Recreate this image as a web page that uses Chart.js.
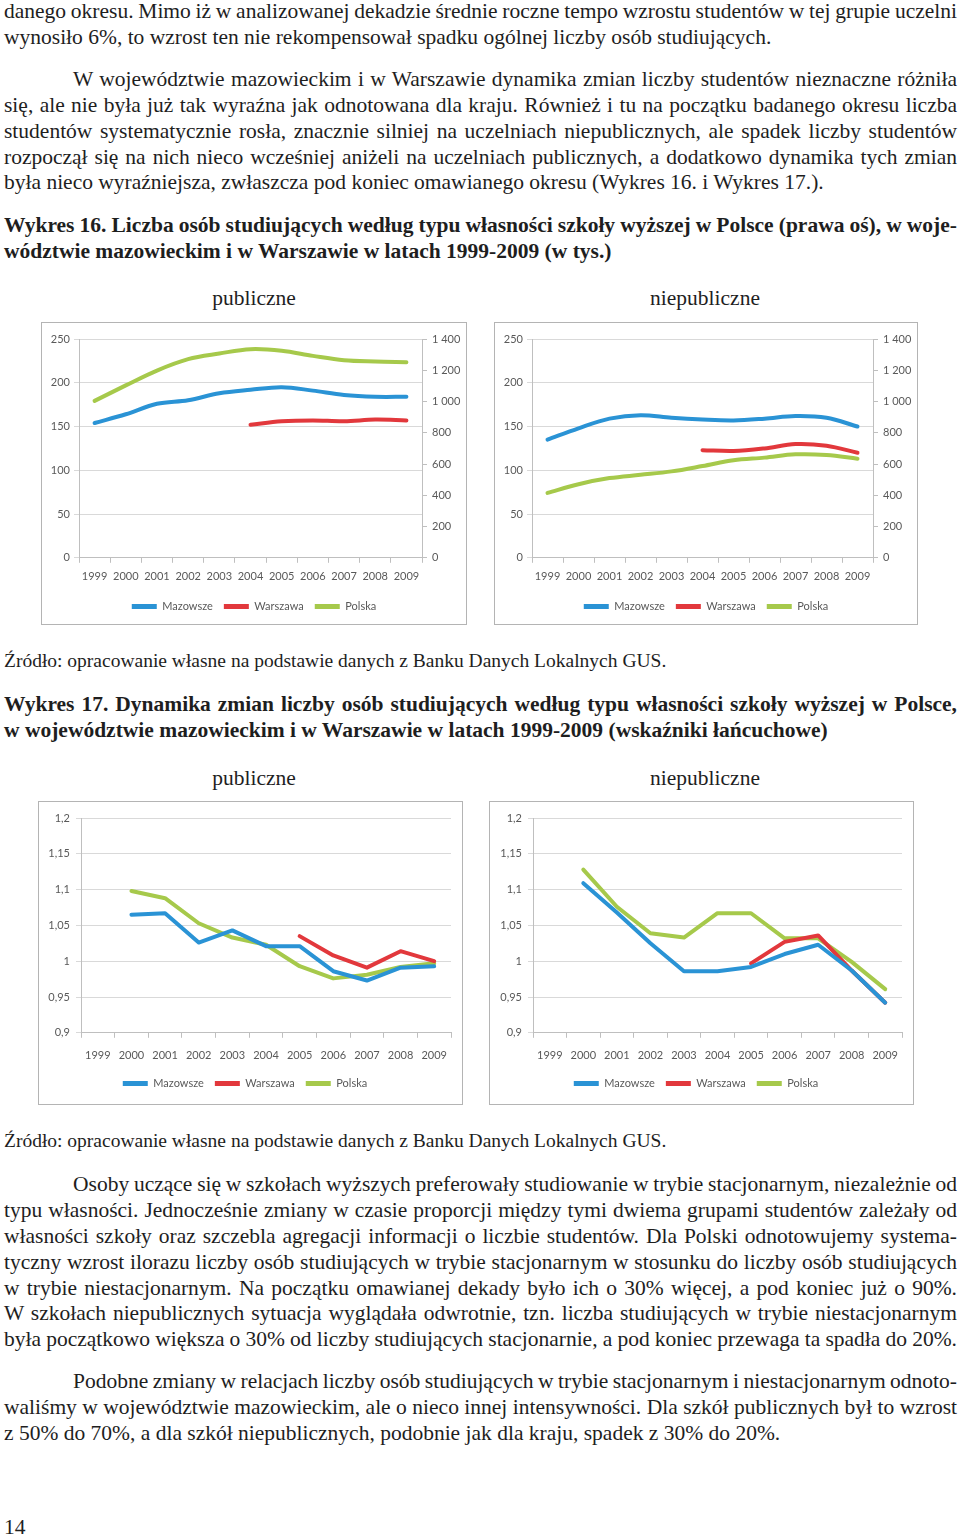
<!DOCTYPE html>
<html lang="pl">
<head>
<meta charset="utf-8">
<title>Wykres 16 i 17</title>
<script src="https://cdn.jsdelivr.net/npm/chart.js@4.4.0/dist/chart.umd.min.js"></script>
<style>
  body { margin: 0; width: 960px; height: 1539px; position: relative; background: #fff;
         font-family: "Liberation Serif", "Times New Roman", serif; color: #1e1e1e; overflow: hidden; }
  .ln { position: absolute; left: 4px; width: 953px; font-size: 21.5px; line-height: 26px; white-space: nowrap; }
  .j { text-align: justify; text-align-last: justify; }
  .ind { left: 73px; width: 884px; }
  .b { font-weight: bold; }
  .src { font-size: 19.5px; }
  .sub { position: absolute; font-size: 21.5px; line-height: 26px; transform: translateX(-50%); white-space: nowrap; }
  .box { position: absolute; border: 1px solid #b4b4b4; background: #fff; }
  .box div { position: relative; width: 100%; height: 100%; }
</style>
</head>
<body>

<div class="ln j" style="top:-2px">danego okresu. Mimo iż w analizowanej dekadzie średnie roczne tempo wzrostu studentów w tej grupie uczelni</div>
<div class="ln" style="top:24px">wynosiło 6%, to wzrost ten nie rekompensował spadku ogólnej liczby osób studiujących.</div>

<div class="ln j ind" style="top:66px">W województwie mazowieckim i w Warszawie dynamika zmian liczby studentów nieznaczne różniła</div>
<div class="ln j" style="top:92px">się, ale nie była już tak wyraźna jak odnotowana dla kraju. Również i tu na początku badanego okresu liczba</div>
<div class="ln j" style="top:118px">studentów systematycznie rosła, znacznie silniej na uczelniach niepublicznych, ale spadek liczby studentów</div>
<div class="ln j" style="top:144px">rozpoczął się na nich nieco wcześniej aniżeli na uczelniach publicznych, a dodatkowo dynamika tych zmian</div>
<div class="ln" style="top:169px">była nieco wyraźniejsza, zwłaszcza pod koniec omawianego okresu (Wykres 16. i Wykres 17.).</div>

<div class="ln j b" style="top:212px">Wykres 16. Liczba osób studiujących według typu własności szkoły wyższej w Polsce (prawa oś), w woje-</div>
<div class="ln b" style="top:238px">wództwie mazowieckim i w Warszawie w latach 1999-2009 (w tys.)</div>

<div class="sub" style="top:285px;left:254px">publiczne</div>
<div class="sub" style="top:285px;left:705px">niepubliczne</div>

<div class="box" style="left:41px;top:322px;width:424px;height:301px"><div><canvas id="c16pub"></canvas></div></div>
<div class="box" style="left:494px;top:322px;width:422px;height:301px"><div><canvas id="c16niepub"></canvas></div></div>

<div class="ln src" style="top:648px">Źródło: opracowanie własne na podstawie danych z Banku Danych Lokalnych GUS.</div>

<div class="ln j b" style="top:691px">Wykres 17. Dynamika zmian liczby osób studiujących według typu własności szkoły wyższej w Polsce,</div>
<div class="ln b" style="top:717px">w województwie mazowieckim i w Warszawie w latach 1999-2009 (wskaźniki łańcuchowe)</div>

<div class="sub" style="top:765px;left:254px">publiczne</div>
<div class="sub" style="top:765px;left:705px">niepubliczne</div>

<div class="box" style="left:38px;top:801px;width:423px;height:302px"><div><canvas id="c17pub"></canvas></div></div>
<div class="box" style="left:489px;top:801px;width:423px;height:302px"><div><canvas id="c17niepub"></canvas></div></div>

<div class="ln src" style="top:1128px">Źródło: opracowanie własne na podstawie danych z Banku Danych Lokalnych GUS.</div>

<div class="ln j ind" style="top:1171px">Osoby uczące się w szkołach wyższych preferowały studiowanie w trybie stacjonarnym, niezależnie od</div>
<div class="ln j" style="top:1197px">typu własności. Jednocześnie zmiany w czasie proporcji między tymi dwiema grupami studentów zależały od</div>
<div class="ln j" style="top:1223px">własności szkoły oraz szczebla agregacji informacji o liczbie studentów. Dla Polski odnotowujemy systema-</div>
<div class="ln j" style="top:1249px">tyczny wzrost ilorazu liczby osób studiujących w trybie stacjonarnym w stosunku do liczby osób studiujących</div>
<div class="ln j" style="top:1275px">w trybie niestacjonarnym. Na początku omawianej dekady było ich o 30% więcej, a pod koniec już o 90%.</div>
<div class="ln j" style="top:1300px">W szkołach niepublicznych sytuacja wyglądała odwrotnie, tzn. liczba studiujących w trybie niestacjonarnym</div>
<div class="ln j" style="top:1326px">była początkowo większa o 30% od liczby studiujących stacjonarnie, a pod koniec przewaga ta spadła do 20%.</div>

<div class="ln j ind" style="top:1368px">Podobne zmiany w relacjach liczby osób studiujących w trybie stacjonarnym i niestacjonarnym odnoto-</div>
<div class="ln j" style="top:1394px">waliśmy w województwie mazowieckim, ale o nieco innej intensywności. Dla szkół publicznych był to wzrost</div>
<div class="ln" style="top:1420px">z 50% do 70%, a dla szkół niepublicznych, podobnie jak dla kraju, spadek z 30% do 20%.</div>

<div class="ln" style="top:1514px">14</div>

<script>
const years = ["1999", "2000", "2001", "2002", "2003", "2004", "2005", "2006", "2007", "2008", "2009"];

// Wykres 16 – liczba studentów (tys.), Polska na prawej osi
const pubMazowsze = [154, 164, 176, 180, 188, 192, 195, 191, 186, 184, 184];
const pubWarszawa = [null, null, null, null, null, 152, 156, 157, 156, 158, 157];
const pubPolska = [1004, 1103, 1198, 1271, 1307, 1335, 1325, 1292, 1264, 1256, 1252];

const niepubMazowsze = [135, 148, 159, 163, 160, 158, 157, 159, 162, 160, 150];
const niepubWarszawa = [null, null, null, null, null, 123, 122, 125, 130, 128, 120];
const niepubPolska = [415, 471, 510, 531, 553, 587, 624, 641, 662, 658, 634];

const leftTicks16 = ["0", "50", "100", "150", "200", "250"];
const rightTicks16 = ["0", "200", "400", "600", "800", "1 000", "1 200", "1 400"];

// Wykres 17 – wskaźniki łańcuchowe
const dynPubMazowsze = [null, 1.065, 1.067, 1.026, 1.043, 1.021, 1.021, 0.986, 0.973, 0.991, 0.993];
const dynPubWarszawa = [null, null, null, null, null, null, 1.035, 1.008, 0.991, 1.014, 1.000];
const dynPubPolska = [null, 1.098, 1.088, 1.053, 1.033, 1.023, 0.993, 0.976, 0.981, 0.992, 0.997];

const dynNiepubMazowsze = [null, 1.109, 1.068, 1.025, 0.986, 0.986, 0.992, 1.010, 1.023, 0.987, 0.942];
const dynNiepubWarszawa = [null, null, null, null, null, null, 0.997, 1.027, 1.036, 0.987, 0.942];
const dynNiepubPolska = [null, 1.128, 1.076, 1.039, 1.033, 1.067, 1.067, 1.032, 1.032, 0.999, 0.961];

const ticks17 = ["0,9", "0,95", "1", "1,05", "1,1", "1,15", "1,2"];

const BLUE = "#2a93d5";
const RED = "#e2383c";
const GREEN = "#a6c94b";
const GREY = "#595959";
const AXIS = "#bfbfbf";
const GRID = "#d9d9d9";
const FONT = { family: "Lato, 'Open Sans', sans-serif", size: 11 };

Chart.defaults.font.family = FONT.family;
Chart.defaults.color = GREY;

/* wiersze tekstu, które się nie mieszczą – lekko ścieśnić odstępy */
document.querySelectorAll(".ln").forEach(el => {
  const over = el.scrollWidth - el.clientWidth;
  if (over > 0) {
    const spaces = (el.textContent.match(/ /g) || []).length || 1;
    el.style.wordSpacing = (-(over + 1) / spaces).toFixed(2) + "px";
  }
});

function series(label, data, color, axis, tension) {
  return {
    label, data,
    borderColor: color, backgroundColor: color,
    borderWidth: 4, pointRadius: 0, pointHoverRadius: 0,
    tension, yAxisID: axis,
    borderCapStyle: "round", borderJoinStyle: "round"
  };
}

function xAxis(pad, trim) {
  return {
    offset: true,
    grid: { offset: true, drawOnChartArea: false, tickLength: 5, color: AXIS },
    border: { color: AXIS },
    ticks: { color: GREY, font: FONT, padding: pad, maxRotation: 0, autoSkip: false },
    afterFit: s => { s.height -= trim; }
  };
}

function legendOpts(pad) {
  return {
    position: "bottom",
    labels: {
      boxWidth: 25, boxHeight: 5, padding: pad, color: GREY, font: FONT,
      generateLabels: chart =>
        Chart.defaults.plugins.legend.labels.generateLabels(chart).map(l => ({ ...l, lineWidth: 0 }))
    }
  };
}

/* ---------- Wykres 16 ---------- */
function chart16(id, maz, war, pol) {
  new Chart(document.getElementById(id), {
    type: "line",
    data: {
      labels: years,
      datasets: [
        series("Mazowsze", maz, BLUE, "y", 0.35),
        series("Warszawa", war, RED, "y", 0.35),
        series("Polska", pol, GREEN, "y1", 0.35)
      ]
    },
    options: {
      responsive: true, maintainAspectRatio: false, animation: false,
      layout: { padding: { top: 16, left: 0, right: 0, bottom: 2 } },
      plugins: { legend: legendOpts(11), tooltip: { enabled: false } },
      scales: {
        x: xAxis(7, 0),
        y: {
          position: "left", min: 0, max: 250,
          ticks: { stepSize: 50, color: GREY, font: FONT, padding: 4, callback: (v, i) => leftTicks16[i] },
          grid: { color: GRID, tickLength: 5 },
          border: { color: AXIS },
          afterFit: s => { s.width = 37; }
        },
        y1: {
          position: "right", min: 0, max: 1400,
          ticks: { stepSize: 200, color: GREY, font: FONT, padding: 5, callback: (v, i) => rightTicks16[i] },
          grid: { drawOnChartArea: false, tickLength: 5, color: AXIS },
          border: { color: AXIS },
          afterFit: s => { s.width = 44; }
        }
      }
    }
  });
}

/* ---------- Wykres 17 ---------- */
function chart17(id, maz, war, pol, leftW, rightPad) {
  new Chart(document.getElementById(id), {
    type: "line",
    data: {
      labels: years,
      datasets: [
        series("Mazowsze", maz, BLUE, "y", 0),
        series("Warszawa", war, RED, "y", 0),
        series("Polska", pol, GREEN, "y", 0)
      ]
    },
    options: {
      responsive: true, maintainAspectRatio: false, animation: false,
      layout: { padding: { top: 16, left: 0, right: rightPad, bottom: 5 } },
      plugins: { legend: legendOpts(11), tooltip: { enabled: false } },
      scales: {
        x: xAxis(11, 6),
        y: {
          min: 0.9, max: 1.2,
          ticks: { stepSize: 0.05, color: GREY, font: FONT, padding: 6, callback: (v, i) => ticks17[i] },
          grid: { color: GRID, tickLength: 5 },
          border: { color: AXIS },
          afterFit: s => { s.width = leftW; }
        }
      }
    }
  });
}

chart16("c16pub", pubMazowsze, pubWarszawa, pubPolska);
chart16("c16niepub", niepubMazowsze, niepubWarszawa, niepubPolska);
chart17("c17pub", dynPubMazowsze, dynPubWarszawa, dynPubPolska, 42, 11);
chart17("c17niepub", dynNiepubMazowsze, dynNiepubWarszawa, dynNiepubPolska, 43, 11);
</script>
</body>
</html>
